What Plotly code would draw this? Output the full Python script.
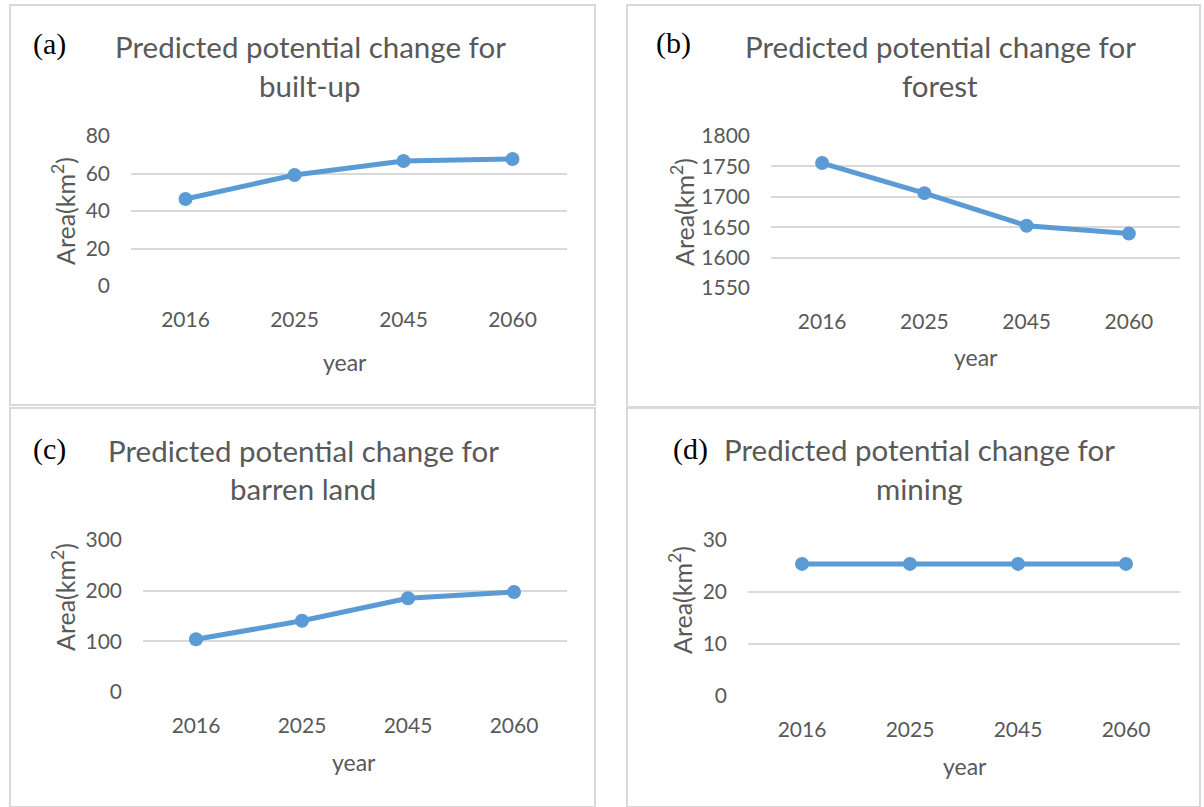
import plotly.graph_objects as go

# ---- data -------------------------------------------------------------
years = ["2016", "2025", "2045", "2060"]

built_up = [46.4, 59.2, 66.7, 67.7]
forest = [1755.5, 1706.0, 1652.5, 1639.5]
barren_land = [104.0, 140.5, 185.0, 197.5]
mining = [25.4, 25.4, 25.4, 25.4]

panel_letters = ["(a)", "(b)", "(c)", "(d)"]
panel_subjects = ["built-up", "forest", "barren land", "mining"]
y_ranges = [[0, 80], [1550, 1800], [0, 300], [0, 30]]
y_dticks = [20, 50, 100, 10]

# ---- page geometry (pixels) ---------------------------------------------
W, H = 1204, 807


def px(x):
    return x / W


def py(y):
    return 1 - y / H


# plot area of each panel: (left, right, top, bottom)
plot_boxes = [
    (131, 567, 136, 286),
    (771, 1180, 136, 288),
    (143, 567, 540, 692),
    (748, 1180, 540, 696),
]
# frame of each panel: (x0, y0, x1, y1)
frames = [
    (10, 5, 595, 405),
    (627, 5, 1200, 407),
    (10, 408, 595, 807),
    (627, 408, 1200, 807),
]
# label / title / axis-title anchors
letter_pos = [(49, 44), (673, 43), (49, 449), (690, 449)]
title_pos = [(310, 46), (940, 46), (303, 450), (919, 449)]
ytitle_pos = [(63, 211), (682, 212), (63, 597), (680, 600)]
xtitle_pos = [(345, 362), (976, 357), (354, 762), (965, 766)]

series = [built_up, forest, barren_land, mining]

BLUE = "#5B9BD5"
GREY_TEXT = "#595959"
GRID = "#D9D9D9"
FONT = "Lato"

fig = go.Figure()
annotations = []
shapes = []

for i in range(4):
    n = "" if i == 0 else str(i + 1)
    xa, ya = "x" + n, "y" + n
    fig.add_trace(
        go.Scatter(
            x=years,
            y=series[i],
            mode="lines+markers",
            line=dict(color=BLUE, width=5),
            marker=dict(color=BLUE, size=14),
            xaxis=xa,
            yaxis=ya,
            showlegend=False,
            cliponaxis=False,
        )
    )
    l, r, t, b = plot_boxes[i]
    fig.update_layout(
        {
            "xaxis" + n: dict(
                domain=[px(l), px(r)],
                anchor=ya,
                type="category",
                range=[-0.5, 3.5],
                showgrid=False,
                zeroline=False,
                showline=False,
                ticks="",
                ticklabelstandoff=19,
                tickfont=dict(family=FONT, size=21, color=GREY_TEXT),
            ),
            "yaxis" + n: dict(
                domain=[py(b), py(t)],
                anchor=xa,
                range=y_ranges[i],
                dtick=y_dticks[i],
                showgrid=True,
                gridcolor=GRID,
                gridwidth=1.5,
                zeroline=False,
                showline=False,
                ticks="",
                ticklabelstandoff=20,
                tickfont=dict(family=FONT, size=21, color=GREY_TEXT),
            ),
        }
    )

    x0, y0, x1, y1 = frames[i]
    shapes.append(
        dict(
            type="rect", xref="paper", yref="paper",
            x0=px(x0), x1=px(x1), y0=py(y1), y1=py(y0),
            line=dict(color=GRID, width=2), layer="below",
        )
    )

    lx, ly = letter_pos[i]
    annotations.append(
        dict(
            text=panel_letters[i], x=px(lx), y=py(ly), xref="paper", yref="paper",
            showarrow=False, xanchor="center", yanchor="middle",
            font=dict(family="Liberation Serif", size=30, color="black"),
        )
    )
    tx, ty = title_pos[i]
    annotations.append(
        dict(
            text="Predicted potential change for", x=px(tx), y=py(ty),
            xref="paper", yref="paper", showarrow=False,
            xanchor="center", yanchor="middle",
            font=dict(family=FONT, size=29.5, color=GREY_TEXT),
        )
    )
    annotations.append(
        dict(
            text=panel_subjects[i], x=px(tx), y=py(ty + 39),
            xref="paper", yref="paper", showarrow=False,
            xanchor="center", yanchor="middle",
            font=dict(family=FONT, size=29.5, color=GREY_TEXT),
        )
    )
    yx, yy = ytitle_pos[i]
    annotations.append(
        dict(
            text="Area(km<sup>2</sup>)", x=px(yx), y=py(yy),
            xref="paper", yref="paper", showarrow=False, textangle=-90,
            xanchor="center", yanchor="middle",
            font=dict(family=FONT, size=25, color=GREY_TEXT),
        )
    )
    xx, xy = xtitle_pos[i]
    annotations.append(
        dict(
            text="year", x=px(xx), y=py(xy),
            xref="paper", yref="paper", showarrow=False,
            xanchor="center", yanchor="middle",
            font=dict(family=FONT, size=23, color=GREY_TEXT),
        )
    )

fig.update_layout(
    width=W,
    height=H,
    autosize=False,
    margin=dict(l=0, r=0, t=0, b=0, pad=0, autoexpand=False),
    paper_bgcolor="white",
    plot_bgcolor="white",
    annotations=annotations,
    shapes=shapes,
)

fig.write_html(
    "out.html",
    config={"responsive": False},
    post_script="document.body.style.margin='0';document.body.style.overflow='hidden';",
)
